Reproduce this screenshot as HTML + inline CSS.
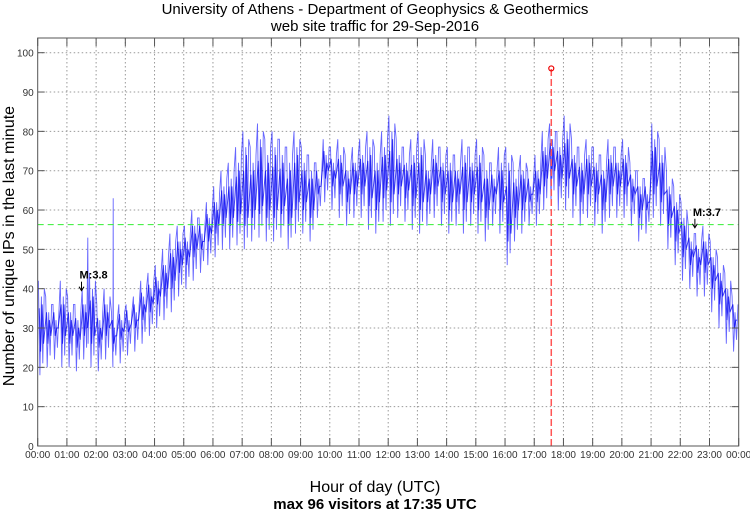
<!DOCTYPE html>
<html><head><meta charset="utf-8"><style>
body{margin:0;background:#fff;}
svg{display:block;font-family:"Liberation Sans",sans-serif;}
</style></head><body>
<svg id="chart" width="750" height="511">
<text x="375" y="14" text-anchor="middle" font-size="15">University of Athens - Department of Geophysics &amp; Geothermics</text>
<text x="375" y="31" text-anchor="middle" font-size="15">web site traffic for 29-Sep-2016</text>
<text transform="translate(14,246) rotate(-90)" text-anchor="middle" font-size="16">Number of unique IPs in the last minute</text>
<text x="375" y="492" text-anchor="middle" font-size="16">Hour of day (UTC)</text>
<text x="375" y="509" text-anchor="middle" font-size="15" font-weight="bold">max 96 visitors at 17:35 UTC</text>
<g id="grid"></g><g id="series"></g><g id="axes"></g>
</svg>
<script>
const hiVals=[42,38,36,42,38,36,40,44,36,40,34,36,36,38,42,44,46,50,54,56,56,60,58,62,66,70,72,76,80,76,82,78,80,78,76,80,76,74,72,78,76,78,74,76,78,80,76,80,84,78,76,78,80,74,78,76,76,74,78,76,78,74,72,76,76,72,74,70,74,80,82,80,84,78,76,78,76,74,78,76,78,72,70,68,82,78,70,66,62,56,54,56,52,48,44,38];
const loVals=[18,20,22,20,20,19,22,20,19,22,20,21,23,24,26,28,30,32,34,38,40,42,44,46,48,50,50,51,50,52,53,52,52,53,50,54,54,52,58,62,60,58,56,58,58,55,54,57,56,58,57,55,54,56,58,56,54,56,54,56,54,52,56,54,46,52,54,56,56,60,62,60,60,58,56,58,56,54,58,58,58,56,52,54,58,56,50,46,42,40,38,38,34,30,26,24];
const spikeMinutes=[103,155,1055];
const spikeValues=[53,63,96];
const meanValue=56.3;
const maxMinute=1055, maxValue=96;
const yTicks=[0,10,20,30,40,50,60,70,80,90,100];
const xTickLabels=["00:00","01:00","02:00","03:00","04:00","05:00","06:00","07:00","08:00","09:00","10:00","11:00","12:00","13:00","14:00","15:00","16:00","17:00","18:00","19:00","20:00","21:00","22:00","23:00","00:00"];
const annotations=[{m:90,v:40,t:"M:3.8"},{m:1350,v:56,t:"M:3.7"}];

const L=37.7,R=738.7,T=38,B=446,Y100=52.7;
const x=m=>L+(R-L)*m/1440;
const y=v=>B-(B-Y100)*v/100;
const NS="http://www.w3.org/2000/svg";
function mk(tag,attrs,parent){const e=document.createElementNS(NS,tag);for(const k in attrs)e.setAttribute(k,attrs[k]);parent.appendChild(e);return e;}
const grid=document.getElementById('grid'),ser=document.getElementById('series'),ax=document.getElementById('axes');
yTicks.forEach(v=>{
  if(v>0){const g=mk('line',{x1:L,x2:R,y1:y(v),y2:y(v),stroke:'#999','stroke-dasharray':'1.5,2.5','stroke-width':1},grid);
  
  }
  const t=mk('text',{x:L-4,y:y(v)+4,'text-anchor':'end','font-size':10,fill:'#333'},ax);t.textContent=v;
  
  
  mk('line',{x1:L,x2:L+7,y1:y(v),y2:y(v),stroke:'#555'},ax);
  mk('line',{x1:R-7,x2:R,y1:y(v),y2:y(v),stroke:'#555'},ax);
});
xTickLabels.forEach((lab,i)=>{
  const xx=x(i*60);
  if(i>0&&i<24){const g=mk('line',{x1:xx,x2:xx,y1:T,y2:B,stroke:'#999','stroke-dasharray':'1.5,2.5'},grid);
  
  }
  mk('line',{x1:xx,x2:xx,y1:B-8,y2:B,stroke:'#555'},ax);
  mk('line',{x1:xx,x2:xx,y1:T,y2:T+8,stroke:'#555'},ax);
  const t=mk('text',{x:xx,y:B+12,'text-anchor':'middle','font-size':10,fill:'#333'},ax);t.textContent=lab;
  
  
});
const fr=mk('rect',{x:L,y:T,width:R-L,height:B-T,fill:'none',stroke:'#555'},ax);


let pts=[];const step=1440/hiVals.length;
for(let i=0;i<hiVals.length;i++){
  const a=i*step;
  const sub=[[a+step*0.1,hiVals[i]],[a+step*0.3,loVals[i]],[a+step*0.5,hiVals[i]-4],[a+step*0.7,loVals[i]+3],[a+step*0.9,hiVals[i]-2]];
  spikeMinutes.forEach((sm,j)=>{if(sm>=a&&sm<a+step&&j<2)sub.push([sm,spikeValues[j]],[sm+0.5,loVals[i]+4]);});
  sub.sort((p,q)=>p[0]-q[0]);
  sub.forEach(p=>pts.push(x(p[0]).toFixed(1)+','+y(p[1]).toFixed(1)));
}
const pl=mk('polyline',{points:pts.join(' '),fill:'none',stroke:'#0000ff','stroke-width':0.9,'stroke-opacity':0.6},ser);


let pts2=[];
for(let i=0;i<hiVals.length;i++){const a=i*step;
  [[a+step*0.2,(hiVals[i]+loVals[i])/2+5],[a+step*0.4,loVals[i]+6],[a+step*0.6,hiVals[i]-6],[a+step*0.8,loVals[i]+8]].forEach(p=>pts2.push(x(p[0]).toFixed(1)+','+y(p[1]).toFixed(1)));}
const pl2=mk('polyline',{points:pts2.join(' '),fill:'none',stroke:'#0000ee','stroke-width':1,'stroke-opacity':0.75},ser);


const ml=mk('line',{x1:L,x2:R,y1:y(meanValue),y2:y(meanValue),stroke:'#33ee33','stroke-dasharray':'6,4','stroke-width':1},ser);


const rl=mk('line',{x1:x(maxMinute),x2:x(maxMinute),y1:B,y2:y(maxValue),stroke:'#ff5555','stroke-dasharray':'7,3','stroke-width':1.5},ser);


const rc=mk('circle',{cx:x(maxMinute),cy:y(maxValue),r:2.5,fill:'none',stroke:'#ee0000','stroke-width':1.2},ser);


annotations.forEach(an=>{
  const g=mk('g',{},ser);
  
  
  const t=mk('text',{x:x(an.m)-2,y:y(an.v)-10,'font-size':11,'font-weight':'bold'},g);t.textContent=an.t;
  mk('line',{x1:x(an.m),x2:x(an.m),y1:y(an.v)-7,y2:y(an.v)+2,stroke:'#000'},g);
  mk('path',{d:`M${x(an.m)-2.5},${y(an.v)-2} L${x(an.m)},${y(an.v)+2} L${x(an.m)+2.5},${y(an.v)-2}`,fill:'none',stroke:'#000'},g);
});
</script>
</body></html>
